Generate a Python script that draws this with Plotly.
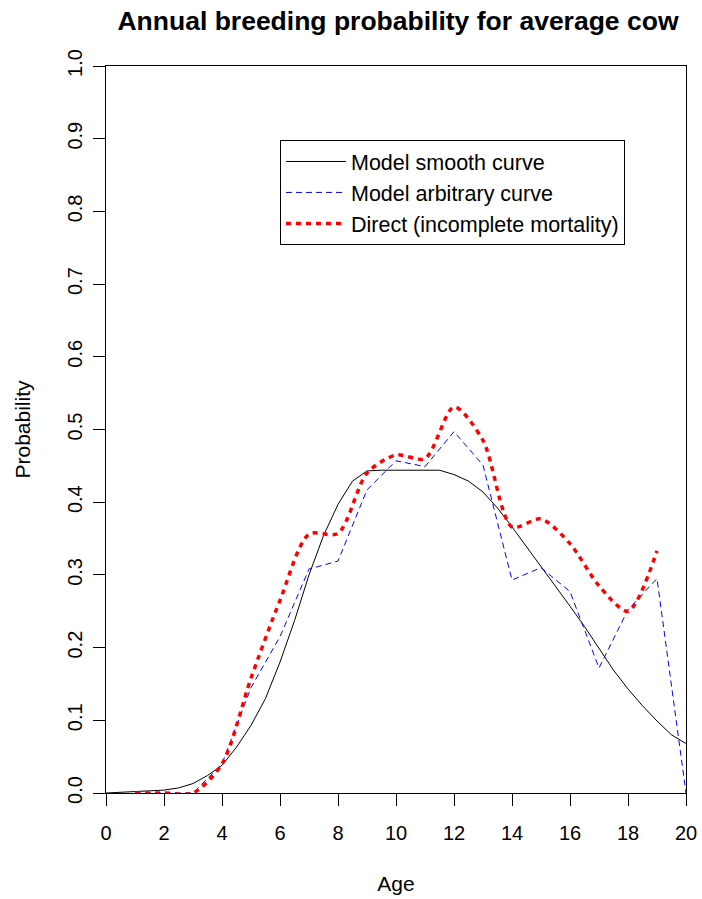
import plotly.graph_objects as go

# Model smooth curve (evaluated every half year)
smooth_age = [0, 0.5, 1, 1.5, 2, 2.5, 3, 3.5, 4, 4.5, 5, 5.5, 6, 6.5, 7, 7.5, 8, 8.5, 9, 9.5,
              10, 10.5, 11, 11.5, 12, 12.5, 13, 13.5, 14, 14.5, 15, 15.5, 16, 16.5, 17, 17.5,
              18, 18.5, 19, 19.5, 20]
smooth_prob = [0.0, 0.0015, 0.002, 0.003, 0.004, 0.007, 0.013, 0.024, 0.038, 0.063, 0.093, 0.13,
               0.18, 0.237, 0.30, 0.354, 0.397, 0.429, 0.443, 0.444,
               0.444, 0.444, 0.444, 0.444, 0.438, 0.429, 0.414, 0.392, 0.366, 0.339, 0.312, 0.285,
               0.257, 0.229, 0.199, 0.169, 0.143, 0.12, 0.099, 0.08, 0.068]

# Model arbitrary curve (yearly)
arb_age = [1, 2, 3, 4, 5, 6, 7, 8, 9, 10, 11, 12, 13, 14, 15, 16, 17, 18, 19, 20]
arb_prob = [0.0, 0.0, 0.0, 0.04, 0.145, 0.215, 0.308, 0.319, 0.417, 0.457, 0.449, 0.497,
            0.451, 0.293, 0.31, 0.277, 0.172, 0.252, 0.295, 0.0]

# Direct (incomplete mortality)
dir_age = [1, 2, 3, 4, 5, 6, 7, 8, 9, 10, 11, 12, 13, 14, 15, 16, 17, 18, 19]
dir_prob = [0.0, 0.0, 0.0, 0.04, 0.158, 0.265, 0.356, 0.357, 0.44, 0.465, 0.46, 0.531,
            0.485, 0.366, 0.377, 0.343, 0.285, 0.25, 0.333]

x_ticks = [0, 2, 4, 6, 8, 10, 12, 14, 16, 18, 20]
y_ticks = [0.0, 0.1, 0.2, 0.3, 0.4, 0.5, 0.6, 0.7, 0.8, 0.9, 1.0]

font_family = "Liberation Sans, Arial, sans-serif"

W, H = 702, 899

fig = go.Figure()
fig.add_trace(go.Scatter(x=smooth_age, y=smooth_prob, mode="lines",
                         name="Model smooth curve",
                         line=dict(color="black", width=1)))
fig.add_trace(go.Scatter(x=arb_age, y=arb_prob, mode="lines",
                         name="Model arbitrary curve",
                         line=dict(color="blue", width=1, dash="6px,4px")))
fig.add_trace(go.Scatter(x=dir_age, y=dir_prob, mode="lines",
                         name="Direct (incomplete mortality)",
                         line=dict(color="red", width=3.5, dash="5px,5px", shape="spline",
                                   smoothing=0.8)))

fig.update_layout(
    width=W, height=H,
    margin=dict(l=106, r=16, t=66, b=106, autoexpand=False),
    paper_bgcolor="white", plot_bgcolor="white",
    font=dict(family=font_family, size=20, color="black"),
    title=dict(text="<b>Annual breeding probability for average cow</b>",
               x=398 / W, xanchor="center", y=1 - 21 / H, yanchor="middle",
               font=dict(size=26.5, family=font_family)),
    showlegend=True,
    legend=dict(x=(280 - 106) / 580, y=(793 - 140) / 727, xanchor="left", yanchor="top",
                bordercolor="black", borderwidth=1, bgcolor="white",
                font=dict(size=21.5, family=font_family),
                tracegroupgap=0, itemwidth=60),
)
fig.update_xaxes(range=[0, 20], tickvals=x_ticks, ticktext=[str(v) for v in x_ticks],
                 ticks="outside", ticklen=12, tickcolor="black", showgrid=False, zeroline=False,
                 showline=True, linecolor="black", linewidth=1, mirror=True, automargin=False,
                 tickfont=dict(size=20), ticklabelstandoff=10,
                 title=dict(text="Age", standoff=33, font=dict(size=21)))
fig.update_yaxes(range=[0, 1], tickvals=y_ticks, ticktext=[f"{v:.1f}" for v in y_ticks],
                 tickangle=-90, ticks="outside", ticklen=12, tickcolor="black", showgrid=False,
                 zeroline=False, showline=True, linecolor="black", linewidth=1, mirror=True,
                 automargin=False, tickfont=dict(size=20), ticklabelstandoff=3,
                 title=dict(text="Probability", standoff=27, font=dict(size=21)))

# remove the default page margin and scrollbars so the figure fills the window exactly
page_css = ("document.documentElement.style.margin='0';"
            "document.documentElement.style.overflow='hidden';"
            "document.body.style.margin='0';"
            "document.body.style.overflow='hidden';")

fig.write_html("out.html", post_script=page_css,
               config={"displayModeBar": False, "staticPlot": True})
